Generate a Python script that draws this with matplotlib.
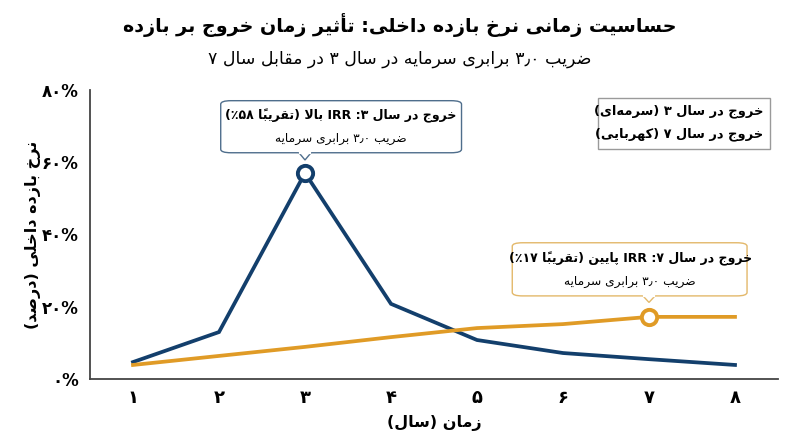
import matplotlib
matplotlib.use("Agg")
import matplotlib.pyplot as plt
from matplotlib.patches import FancyBboxPatch, Rectangle, Polygon

# data
years = [1, 2, 3, 4, 5, 6, 7, 8]
irr_exit_y3 = [4.7, 13.0, 57.0, 20.8, 10.8, 7.2, 5.5, 3.9]
irr_exit_y7 = [3.9, 6.4, 8.9, 11.6, 14.1, 15.2, 17.2, 17.2]
year_labels = ['۱', '۲', '۳', '۴', '۵', '۶', '۷', '۸']
y_ticks = [0, 20, 40, 60, 80]
y_tick_labels = ['۰%', '۲۰%', '۴۰%', '۶۰%', '۸۰%']

title = 'حساسیت زمانی نرخ بازده داخلی: تأثیر زمان خروج بر بازده'
subtitle = 'ضریب ۳٫۰ برابری سرمایه در سال ۳ در مقابل سال ۷'
x_label = 'زمان (سال)'
y_label = 'نرخ بازده داخلی (درصد)'
note_y3 = ['خروج در سال ۳: IRR بالا (تقریباً ٪۵۸)', 'ضریب ۳٫۰ برابری سرمایه']
note_y7 = ['خروج در سال ۷: IRR پایین (تقریباً ٪۱۷)', 'ضریب ۳٫۰ برابری سرمایه']
legend_lines = ['خروج در سال ۳ (سرمه\u200cای)', 'خروج در سال ۷ (کهربایی)']

NAVY = '#133f6c'
GOLD = '#e09b26'

# --- minimal Persian shaping + right-to-left ordering (matplotlib does neither) ---
def _rng(a, n):
    return tuple(chr(a + k) for k in range(n))

FORMS = {
    'ء': _rng(0xFE80, 1), 'آ': _rng(0xFE81, 2), 'أ': _rng(0xFE83, 2),
    'ؤ': _rng(0xFE85, 2), 'إ': _rng(0xFE87, 2), 'ئ': _rng(0xFE89, 4),
    'ا': _rng(0xFE8D, 2), 'ب': _rng(0xFE8F, 4), 'ة': _rng(0xFE93, 2),
    'ت': _rng(0xFE95, 4), 'ث': _rng(0xFE99, 4), 'ج': _rng(0xFE9D, 4),
    'ح': _rng(0xFEA1, 4), 'خ': _rng(0xFEA5, 4), 'د': _rng(0xFEA9, 2),
    'ذ': _rng(0xFEAB, 2), 'ر': _rng(0xFEAD, 2), 'ز': _rng(0xFEAF, 2),
    'س': _rng(0xFEB1, 4), 'ش': _rng(0xFEB5, 4), 'ص': _rng(0xFEB9, 4),
    'ض': _rng(0xFEBD, 4), 'ط': _rng(0xFEC1, 4), 'ظ': _rng(0xFEC5, 4),
    'ع': _rng(0xFEC9, 4), 'غ': _rng(0xFECD, 4), 'ف': _rng(0xFED1, 4),
    'ق': _rng(0xFED5, 4), 'ك': _rng(0xFED9, 4), 'ل': _rng(0xFEDD, 4),
    'م': _rng(0xFEE1, 4), 'ن': _rng(0xFEE5, 4), 'ه': _rng(0xFEE9, 4),
    'و': _rng(0xFEED, 2), 'ى': _rng(0xFEEF, 2), 'ي': _rng(0xFEF1, 4),
    'پ': _rng(0xFB56, 4), 'چ': _rng(0xFB7A, 4), 'ژ': _rng(0xFB8A, 2),
    'ک': _rng(0xFB8E, 4), 'گ': _rng(0xFB92, 4), 'ی': _rng(0xFBFC, 4),
}
LAM_ALEF = {'ا': '\uFEFB', 'آ': '\uFEF5', 'أ': '\uFEF7', 'إ': '\uFEF9'}


def is_mark(c):
    return '\u064B' <= c <= '\u065F' or c == '\u0670'


def shape(s):
    out = []
    i = 0
    while i < len(s):
        c = s[i]
        if c not in FORMS:
            if c != '\u200c':
                out.append(c)
            i += 1
            continue
        j = i - 1
        while j >= 0 and is_mark(s[j]):
            j -= 1
        prev = s[j] if j >= 0 else ''
        k = i + 1
        while k < len(s) and is_mark(s[k]):
            k += 1
        nxt = s[k] if k < len(s) else ''
        join_prev = prev in FORMS and len(FORMS[prev]) == 4
        if c == 'ل' and nxt in LAM_ALEF:
            lig = LAM_ALEF[nxt]
            out.append(chr(ord(lig) + 1) if join_prev else lig)
            i = k + 1
            continue
        forms = FORMS[c]
        join_next = len(forms) == 4 and nxt in FORMS and len(FORMS[nxt]) >= 2
        if len(forms) == 1:
            join_prev = False
        if join_prev and join_next:
            out.append(forms[3])
        elif join_prev:
            out.append(forms[1])
        elif join_next:
            out.append(forms[2])
        else:
            out.append(forms[0])
        i += 1
    return ''.join(out)


def is_digit(c):
    return c.isdigit()


def fa(s):
    t = shape(s)
    kinds = []
    for i, c in enumerate(t):
        if is_digit(c):
            kinds.append('num')
        elif c in '٪%٫٬.,' and ((i > 0 and is_digit(t[i - 1])) or (i + 1 < len(t) and is_digit(t[i + 1]))):
            kinds.append('num')
        elif c.isascii() and c.isalpha():
            kinds.append('L')
        else:
            kinds.append('R')
    tokens = []
    i = 0
    while i < len(t):
        if kinds[i] in ('num', 'L'):
            j = i
            while j < len(t) and kinds[j] == kinds[i]:
                j += 1
            tokens.append(t[i:j])
            i = j
        else:
            j = i + 1
            while j < len(t) and is_mark(t[j]):
                j += 1
            tok = t[i:j]
            tok = {'(': ')', ')': '('}.get(tok, tok)
            tokens.append(tok)
            i = j
    return ''.join(reversed(tokens))


FONT = ['DejaVu Sans']
plt.rcParams['font.family'] = FONT

fig = plt.figure(figsize=(8, 4.47), dpi=100)
ax = fig.add_axes([0.1125, 0.152, 0.86, 0.647])

ax.plot(years, irr_exit_y3, color=NAVY, lw=2.7, solid_joinstyle='miter', zorder=3)
ax.plot(years, irr_exit_y7, color=GOLD, lw=2.7, zorder=3)
ax.plot([years[2]], [irr_exit_y3[2]], 'o', ms=11, mfc='white', mec=NAVY, mew=2.8, zorder=4)
ax.plot([years[6]], [irr_exit_y7[6]], 'o', ms=11, mfc='white', mec=GOLD, mew=2.8, zorder=4)

ax.set_xlim(0.5, 8.5)
ax.set_ylim(0, 80)
ax.set_xticks(years)
ax.set_xticklabels(year_labels, fontsize=13, fontweight='bold')
ax.set_yticks(y_ticks)
ax.set_yticklabels(y_tick_labels, fontsize=12, fontweight='bold')
ax.tick_params(length=0, pad=8)
ax.tick_params(axis='x', pad=7)
for side in ['top', 'right']:
    ax.spines[side].set_visible(False)
for side in ['left', 'bottom']:
    ax.spines[side].set_color('#444444')
    ax.spines[side].set_linewidth(1.3)

ax.set_xlabel(fa(x_label), fontsize=11.5, fontweight='bold', labelpad=6)
ax.set_ylabel(fa(y_label), fontsize=11.5, fontweight='bold', labelpad=1)

fig.text(0.5, 0.944, fa(title), ha='center', va='center', fontsize=13.8, fontweight='bold')
fig.text(0.5, 0.868, fa(subtitle), ha='center', va='center', fontsize=12.5)


def callout(x0, x1, y0, y1, px, tip, lines, edge, tx):
    box = FancyBboxPatch((x0, y0), x1 - x0, y1 - y0,
                         boxstyle='round,pad=0,rounding_size=0.12',
                         mutation_aspect=8, fc='white', ec=edge, lw=1.0, zorder=5)
    ax.add_patch(box)
    w = 0.07
    tri = Polygon([(px - w, y0), (px, tip), (px + w, y0)], closed=False,
                  fc='white', ec=edge, lw=1.0, zorder=6)
    ax.add_patch(tri)
    ax.plot([px - w + 0.01, px + w - 0.01], [y0, y0], color='white', lw=1.6, zorder=7)
    h = y1 - y0
    ax.text(tx, y1 - 0.30 * h, fa(lines[0]), ha='center', va='center',
            fontsize=9.0, fontweight='bold', zorder=8)
    ax.text(tx, y1 - 0.72 * h, fa(lines[1]), ha='center', va='center',
            fontsize=8.8, zorder=8)


callout(2.02, 4.82, 62.6, 77.0, years[2], 60.6, note_y3, '#4f6e8c', 3.42)
callout(5.41, 8.14, 23.0, 37.7, years[6], 21.2, note_y7, '#e3b86a', 6.78)

leg = Rectangle((6.41, 63.7), 2.0, 14.1, fc='white', ec='#9a9a9a', lw=1.0, zorder=5)
ax.add_patch(leg)
ax.text(8.33, 74.0, fa(legend_lines[0]), ha='right', va='center', fontsize=9.4,
        fontweight='bold', zorder=8)
ax.text(8.33, 67.6, fa(legend_lines[1]), ha='right', va='center', fontsize=9.4,
        fontweight='bold', zorder=8)

fig.savefig('out.png', dpi=100, facecolor='white')
